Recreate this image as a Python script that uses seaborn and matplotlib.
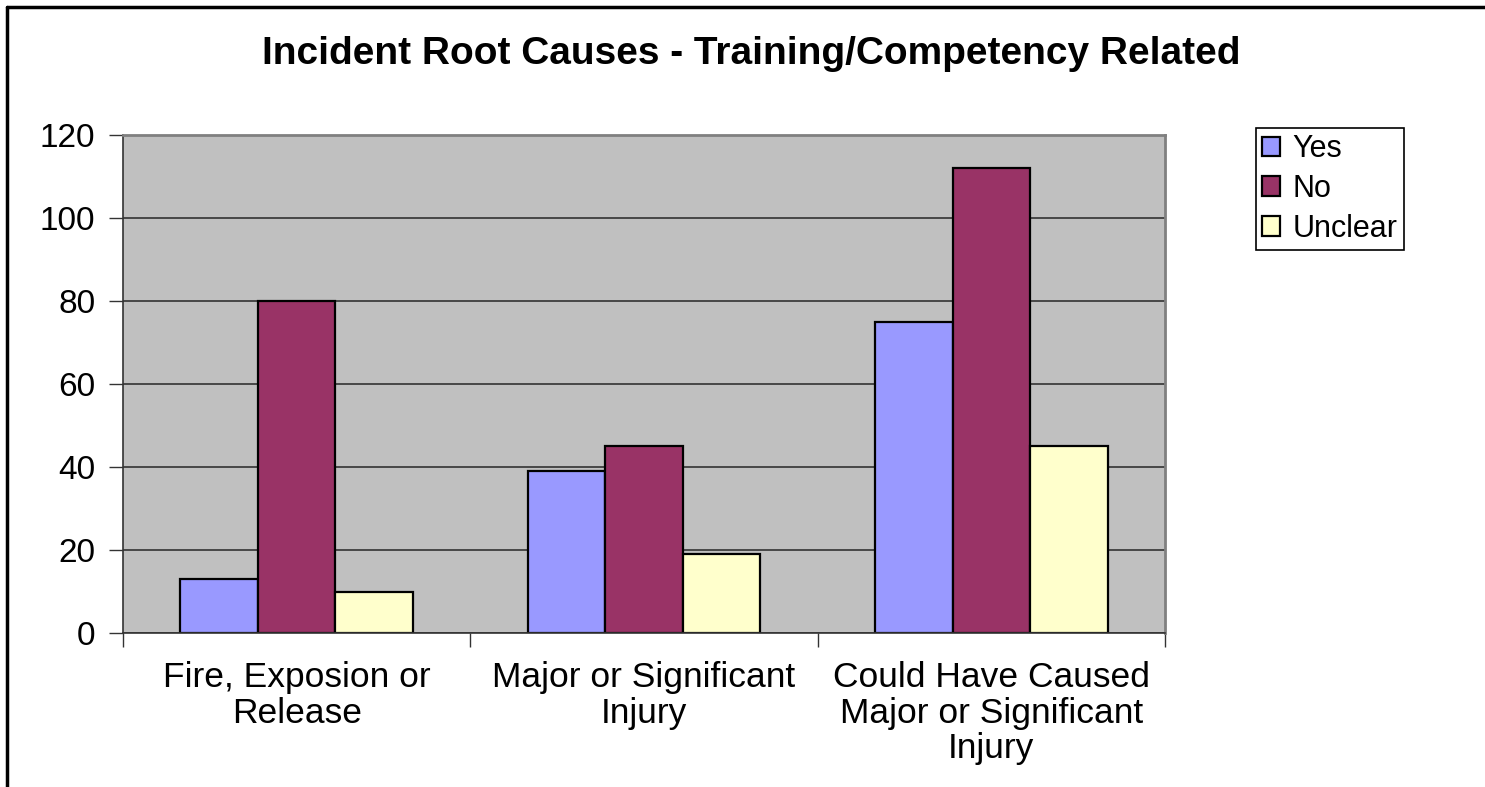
import numpy as np
import pandas as pd
import seaborn as sns
import matplotlib.pyplot as plt
from matplotlib.lines import Line2D

# data
categories = ["Fire, Exposion or\nRelease", "Major or Significant\nInjury",
              "Could Have Caused\nMajor or Significant\nInjury"]
series = ["Yes", "No", "Unclear"]
yes_vals = [13, 39, 75]
no_vals = [80, 45, 112]
unclear_vals = [10, 19, 45]
colors = ["#9999FF", "#993366", "#FFFFCC"]
y_ticks = [0, 20, 40, 60, 80, 100, 120]

df = pd.DataFrame({
    "category": categories * 3,
    "answer": ["Yes"] * 3 + ["No"] * 3 + ["Unclear"] * 3,
    "count": yes_vals + no_vals + unclear_vals,
})

sns.set_theme(style="white")
plt.rcParams["font.family"] = ["Liberation Sans", "DejaVu Sans"]
plt.rcParams["text.color"] = "black"
plt.rcParams["xtick.labelcolor"] = "black"
plt.rcParams["ytick.labelcolor"] = "black"

fig = plt.figure(figsize=(14.85, 7.87), dpi=100)
ax = fig.add_axes([123 / 1485, 1 - 633 / 787, (1165 - 123) / 1485, (633 - 135) / 787])

sns.barplot(data=df, x="category", y="count", hue="answer", hue_order=series,
            palette=colors, order=categories, width=0.67, gap=0,
            edgecolor="black", linewidth=1.6, saturation=1, ax=ax, legend=True)

ax.set_facecolor("#C0C0C0")
ax.set_ylim(0, 120)
ax.set_xlim(-0.5, 2.5)
ax.set_yticks(y_ticks)
ax.set_yticklabels([str(t) for t in y_ticks], fontsize=24)
ax.yaxis.grid(True, color="#333333", linewidth=1.2)
ax.set_axisbelow(True)
ax.set_xlabel("")
ax.set_ylabel("")

# category ticks at group boundaries, labels centred
ax.set_xticks([-0.5, 0.5, 1.5, 2.5])
ax.set_xticklabels([])
ax.set_xticks([0, 1, 2], minor=True)
ax.set_xticklabels(categories, minor=True, fontsize=25.5, linespacing=1.11)
ax.tick_params(axis="x", which="major", direction="out", length=10, width=1, color="#333333", bottom=True)
ax.tick_params(axis="x", which="minor", length=0, pad=20)
ax.tick_params(axis="y", direction="out", length=10, width=1, color="#333333", left=True, pad=10)

for side in ["top", "right"]:
    ax.spines[side].set_color("#808080")
    ax.spines[side].set_linewidth(2)
for side in ["left", "bottom"]:
    ax.spines[side].set_color("#333333")
    ax.spines[side].set_linewidth(1.2)

fig.text(751 / 1485, 1 - 54 / 787, "Incident Root Causes - Training/Competency Related",
         ha="center", va="center", fontsize=28, fontweight="bold")

handles, labels = ax.get_legend_handles_labels()
ax.legend(handles, labels, loc="upper left", bbox_to_anchor=(1256 / 1485, 1 - 128 / 787),
          bbox_transform=fig.transFigure, fontsize=22, frameon=True, fancybox=False,
          edgecolor="black", framealpha=1, handlelength=0.6, handleheight=0.6,
          handletextpad=0.4, labelspacing=0.32, borderpad=0.2, borderaxespad=0)
ax.get_legend().get_frame().set_linewidth(1.2)

# chart area border (right and bottom fall outside the image)
fig.add_artist(Line2D([7 / 1485, 7 / 1485], [0, 1 - 7 / 787], color="black", linewidth=2.5,
                      transform=fig.transFigure))
fig.add_artist(Line2D([7 / 1485, 1], [1 - 7 / 787, 1 - 7 / 787], color="black", linewidth=2.5,
                      transform=fig.transFigure))

fig.savefig("out.png", dpi=100, facecolor="white")
